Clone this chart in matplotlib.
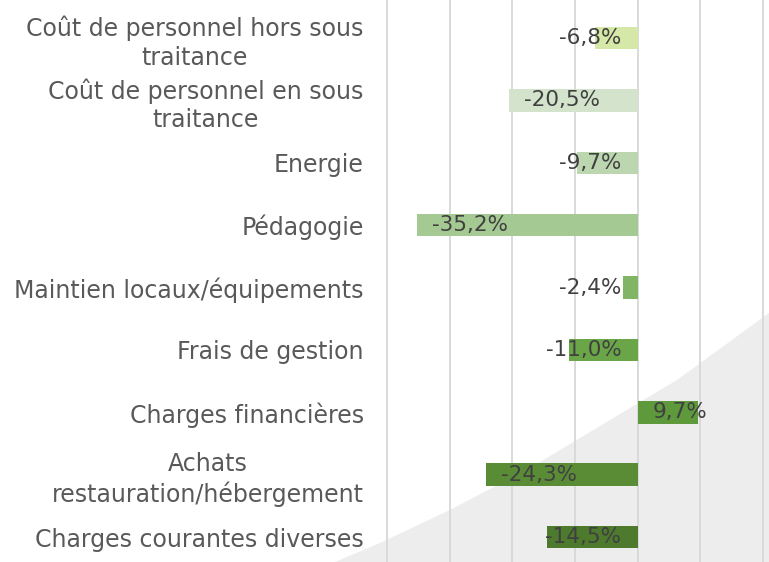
import matplotlib
matplotlib.use('Agg')
import matplotlib.pyplot as plt
import numpy as np

# categories (top to bottom) and variation in %
categories = ['Coût de personnel hors sous\ntraitance',
              'Coût de personnel en sous\ntraitance',
              'Energie',
              'Pédagogie',
              'Maintien locaux/équipements',
              'Frais de gestion',
              'Charges financières',
              'Achats\nrestauration/hébergement',
              'Charges courantes diverses']
values = [-6.8, -20.5, -9.7, -35.2, -2.4, -11.0, 9.7, -24.3, -14.5]
colors = ['#D6E8A7', '#D3E3CC', '#BCD6B0', '#A5C993', '#80B566',
          '#6AA647', '#5E9A3C', '#5A8C36', '#4D7A2D']

plt.rcParams['font.family'] = ['DejaVu Sans']

fig = plt.figure(figsize=(7.69, 5.62), dpi=100)

# decorative grey shape in the bottom right corner (figure pixels)
bg = fig.add_axes([0, 0, 1, 1])
bg.set_axis_off()
sx = np.array([335, 380, 450, 530, 600, 677, 769, 769]) / 769
sy = 1 - np.array([562, 543, 510, 468, 426, 380, 313, 562]) / 562
bg.add_patch(plt.Polygon(np.column_stack([sx, sy]), closed=True,
                         transform=bg.transAxes, color='#EDEDED', lw=0))

ax = fig.add_axes([381 / 769, 0, 388 / 769, 1])
ax.patch.set_alpha(0)

y = np.arange(len(values))
ax.barh(y, values, height=0.36, color=colors, zorder=3)

ax.set_xlim(-41, 21)
ax.set_ylim(8.4, -0.61)
ax.set_xticks([-40, -30, -20, -10, 0, 10, 20])
ax.xaxis.grid(True, color='#D9D9D9', linewidth=1.4, zorder=1)
ax.tick_params(axis='x', bottom=False, labelbottom=False)
ax.tick_params(axis='y', left=False, pad=9, labelsize=17, labelcolor='#595959')
ax.set_yticks(y)
ax.set_yticklabels(categories, multialignment='center', linespacing=1.25)
for s in ax.spines.values():
    s.set_visible(False)

for i, v in enumerate(values):
    txt = ('%.1f%%' % v).replace('.', ',')
    if v < 0 and abs(v) < 16:
        ax.text(-2.6, i, txt, ha='right', va='center', fontsize=15.5,
                color='#404040', zorder=4)
    else:
        ax.text(min(v, 0) + 2.4, i, txt, ha='left', va='center', fontsize=15.5,
                color='#404040', zorder=4)

fig.savefig('out.png', dpi=100)
plt.close()
